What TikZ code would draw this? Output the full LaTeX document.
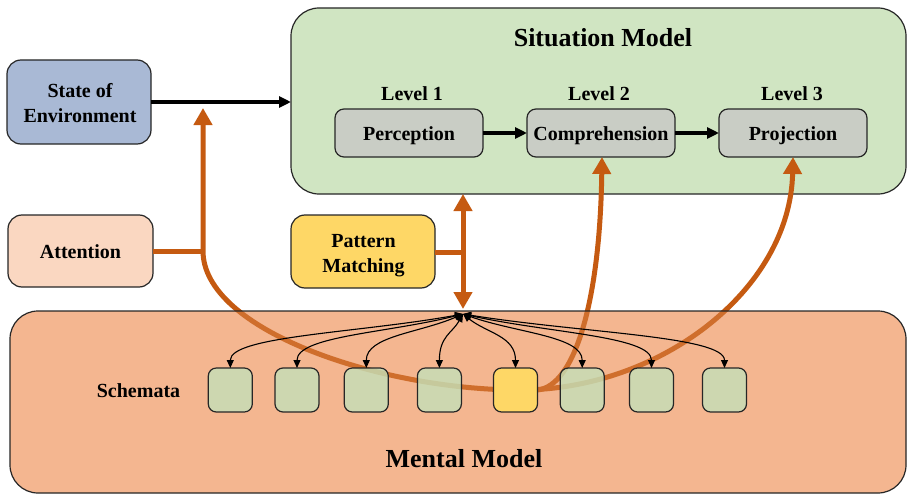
\documentclass[tikz,border=0pt]{standalone}
\usepackage{fontspec}
\setmainfont{Liberation Serif}
\usetikzlibrary{arrows.meta,calc}
\definecolor{envblue}{HTML}{A9B9D5}
\definecolor{attpeach}{HTML}{FAD7C1}
\definecolor{sitgreen}{HTML}{D0E5C2}
\definecolor{lvlgrey}{HTML}{C9CDC5}
\definecolor{patyellow}{HTML}{FED766}
\definecolor{mentsalmon}{HTML}{F4B690}
\definecolor{schgreen}{HTML}{C4E0B8}
\definecolor{orng}{HTML}{C55A11}
\tikzset{
  otip/.tip={Triangle[length=17pt,width=18pt]},
  box/.style={draw=black!85, line width=1.2pt, inner sep=0pt, outer sep=0pt},
  bigbox/.style={box, rounded corners=28pt},
  midbox/.style={box, rounded corners=14pt, minimum width=144pt},
  lvlbox/.style={box, fill=lvlgrey, rounded corners=9pt, minimum width=148pt, minimum height=48pt},
  schbox/.style={box, rounded corners=8pt, minimum width=44pt, minimum height=44pt},
  schgbox/.style={schbox, fill=schgreen, fill opacity=0.8, draw opacity=1},
  lbl/.style={anchor=base, inner sep=0pt, font=\fontsize{20}{24}\selectfont\bfseries},
  title/.style={anchor=base, inner sep=0pt, font=\fontsize{26}{30}\selectfont\bfseries},
  blackarrow/.style={line width=3.2pt, -{Triangle[length=12pt,width=11pt]}},
  thinarrow/.style={line width=1.1pt, {Triangle[length=8pt,width=7pt]}-{Triangle[length=8pt,width=7pt]}},
  orangeline/.style={draw=orng, line width=5pt},
}
\begin{document}
\begin{tikzpicture}[x=1pt,y=-1pt]
\useasboundingbox (0,0) rectangle (908,495);
% Situation model
\node[bigbox, fill=sitgreen, minimum width=615pt, minimum height=186pt] (sit) at (598.5,101) {};
\node[title] (sittitle) at (603,47) {Situation Model};
\node[lbl] (lv1) at (412,100) {Level 1};
\node[lbl] (lv2) at (599,100) {Level 2};
\node[lbl] (lv3) at (792,100) {Level 3};
\node[lvlbox] (perc) at (409,133) {};
\node[lvlbox] (comp) at (601,133) {};
\node[lvlbox] (proj) at (793,133) {};
\node[lbl] (perct) at (409,140) {Perception};
\node[lbl] (compt) at (601,140) {Comprehension};
\node[lbl] (projt) at (793,140) {Projection};
\draw[blackarrow] (perc.east) -- (comp.west);
\draw[blackarrow] (comp.east) -- (proj.west);
% left boxes
\node[midbox, fill=envblue, minimum height=84pt] (env) at (79,102) {};
\node[lbl] (envt1) at (80,97) {State of};
\node[lbl] (envt2) at (80,122) {Environment};
\node[midbox, fill=attpeach, minimum width=145pt, minimum height=72pt] (att) at (80.5,251) {};
\node[lbl] (attt) at (80.5,258) {Attention};
\node[midbox, fill=patyellow, minimum height=73pt] (pat) at (363,251.5) {};
\node[lbl] (patt1) at (363.5,247) {Pattern};
\node[lbl] (patt2) at (363.5,272) {Matching};
\draw[blackarrow] (env.east) -- (env.east -| sit.west);
% mental model background
\fill[mentsalmon, rounded corners=28pt] (10,311) rectangle (906,493);
% orange connectors
\coordinate (junA) at (203,251);
\coordinate (junP) at (463,252);
\coordinate (bot) at (520,390);
\coordinate (atop) at (203,108);
\draw[orangeline] (att.east |- junA) -- (junA);
\draw[orangeline] (pat.east |- junP) -- (junP);
\draw[orangeline, {otip}-{otip}] (atop) -- (junA) .. controls (203,330) and (380,390) .. (bot) .. controls (660,390) and (790,290) .. (proj.south);
\draw[orangeline, {otip}-{otip}] (sit.south -| junP) -- (463,309);
\coordinate (ystart) at (537.5,390);
\draw[orangeline, -{otip}] (ystart) .. controls (575,386) and (600,300) .. (602,157);
% lighten inside mental model
\fill[mentsalmon, fill opacity=0.22, rounded corners=28pt] (10,311) rectangle (906,493);
\node[bigbox, minimum width=896pt, minimum height=182pt] (mental) at (458,402) {};
% schemata
\node[schgbox] (s1) at (230.3,390) {};
\node[schgbox] (s2) at (297,390) {};
\node[schgbox] (s3) at (366.3,390) {};
\node[schgbox] (s4) at (439.4,390) {};
\node[schbox, fill=patyellow] (s5) at (515.5,390) {};
\node[schgbox] (s6) at (582.2,390) {};
\node[schgbox] (s7) at (651.5,390) {};
\node[schgbox] (s8) at (724.5,390) {};
\coordinate (apex) at (463,314);
\foreach \i/\bx in {1/230.3,2/297,3/366.3,4/439.4,5/515.5,6/582.2,7/651.5,8/724.5}{
  \draw[thinarrow] (apex) .. controls ({463+0.45*(\bx-463)},333) and (\bx,336) .. (s\i.north);
}
\node[lbl] (schlbl) at (138.5,397) {Schemata};
\node[title] (mentt) at (464,467) {Mental Model};
\end{tikzpicture}
\end{document}
